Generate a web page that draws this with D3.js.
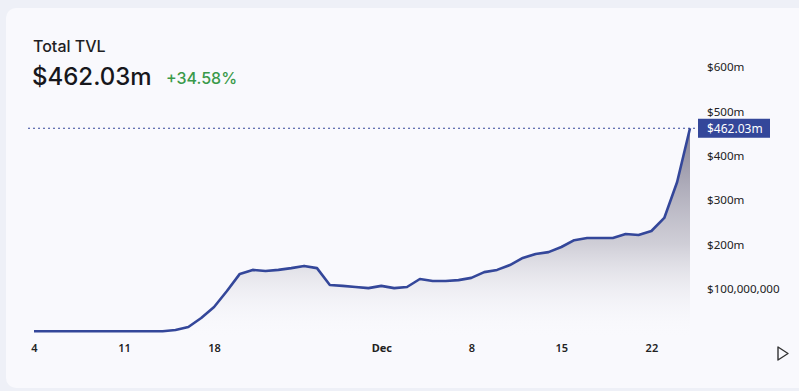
<!DOCTYPE html>
<html><head><meta charset="utf-8">
<script src="https://cdn.jsdelivr.net/npm/d3@7"></script>
<style>
html,body{margin:0;padding:0;background:#eef0f7;}
svg{display:block;}
</style></head>
<body>
<svg id="c" width="799" height="391"></svg>
<script>
// ---- data ----
const startDay = new Date(2024, 10, 4);
const endDay = new Date(2024, 11, 25);
const tvlMillions = [
  5, 5, 5, 5, 5, 5, 5, 5, 5, 5, 5,
  7.7, 14.4, 34.7, 59.5, 95.5, 134, 143, 140.5, 143, 147, 152, 147,
  109, 107, 104.5, 102, 107, 102, 104.5, 122.5, 118, 118, 120, 125,
  138, 143, 154, 170, 179, 183, 194.6, 210, 215, 215, 215, 224, 221.6,
  230.6, 260, 341, 462.03
];
const yTicks = [100e6, 200e6, 300e6, 400e6, 500e6, 600e6];
const xTickDates = [new Date(2024,10,4), new Date(2024,10,11), new Date(2024,10,18),
  new Date(2024,11,1), new Date(2024,11,8), new Date(2024,11,15), new Date(2024,11,22)];
const xTickLabels = ["4", "11", "18", "Dec", "8", "15", "22"];
const titleText = "Total TVL";
const valueText = "$462.03m";
const changeText = "+34.58%";

const days = d3.timeDay.range(startDay, d3.timeDay.offset(endDay, 1));
const data = days.map((d, i) => ({date: d, value: tvlMillions[i] * 1e6}));

const svg = d3.select("#c");
const defs = svg.append("defs");

// card
svg.append("rect").attr("x", 6).attr("y", 8).attr("width", 820).attr("height", 380)
  .attr("rx", 10).attr("fill", "#f9f9fd");

const x = d3.scaleTime().domain([startDay, endDay]).range([34, 690]);
const y = d3.scaleLinear().domain([0, 600e6]).range([333.4, 67]);

const grad = defs.append("linearGradient").attr("id", "g").attr("gradientUnits", "userSpaceOnUse")
  .attr("x1", 0).attr("x2", 0).attr("y1", y(462.03e6)).attr("y2", 338);
grad.append("stop").attr("offset", 0).attr("stop-color", "#77748a").attr("stop-opacity", 0.9);
grad.append("stop").attr("offset", 0.55).attr("stop-color", "#b3b1bd").attr("stop-opacity", 0.6);
grad.append("stop").attr("offset", 1).attr("stop-color", "#f9f9fd").attr("stop-opacity", 0);

const area = d3.area().x(d => x(d.date)).y0(y(0) + 2).y1(d => y(d.value));
svg.append("path").datum(data).attr("d", area).attr("fill", "url(#g)");

const line = d3.line().x(d => x(d.date)).y(d => y(d.value));
svg.append("path").datum(data).attr("d", line).attr("fill", "none")
  .attr("stroke", "#34479a").attr("stroke-width", 2.6).attr("stroke-linejoin", "round");

// last value dotted line
const last = data[data.length - 1];
svg.append("line").attr("x1", 28).attr("x2", 697).attr("y1", y(last.value)).attr("y2", y(last.value))
  .attr("stroke", "#34479a").attr("stroke-width", 1.2).attr("stroke-dasharray", "2,3");

// right axis
const yAxis = d3.axisRight(y).tickValues(yTicks).tickSize(0).tickPadding(0)
  .tickFormat(v => v === 100e6 ? d3.format("$,")(v) : "$" + (v / 1e6) + "m");
const ya = svg.append("g").attr("transform", "translate(707,0)").call(yAxis);
ya.select(".domain").remove();
ya.selectAll("text").attr("font-family", "Noto Sans, Open Sans, sans-serif").attr("font-size", 11.6)
  .attr("fill", "#222");

// last value label
const ly = y(last.value);
svg.append("rect").attr("x", 698).attr("y", ly - 9.5).attr("width", 72).attr("height", 19)
  .attr("fill", "#34479a");
svg.append("text").attr("x", 707).attr("y", ly + 4.5).text(valueText)
  .attr("font-family", "Noto Sans, Open Sans, sans-serif").attr("font-size", 12).attr("fill", "#fff");

// bottom axis
const xAxis = d3.axisBottom(x).tickValues(xTickDates).tickSize(0).tickPadding(0)
  .tickFormat((d, i) => xTickLabels[i]);
const xa = svg.append("g").attr("transform", "translate(0,344)").call(xAxis);
xa.select(".domain").remove();
xa.selectAll("text").attr("font-family", "Noto Sans, Open Sans, sans-serif").attr("font-size", 11)
  .attr("fill", "#222").attr("font-weight", (d, i) => xTickLabels[i] === "Dec" ? "bold" : "600");

// play icon
svg.append("path").attr("d", "M778,347 L788,353.5 L778,360 Z").attr("fill", "none")
  .attr("stroke", "#333").attr("stroke-width", 1.4).attr("stroke-linejoin", "round");

// titles
svg.append("text").attr("x", 33).attr("y", 52).text(titleText)
  .attr("font-family", "Inter, Roboto, sans-serif").attr("font-size", 16).attr("font-weight", 500).attr("fill", "#1f1f24");
svg.append("text").attr("x", 32).attr("y", 85).text(valueText)
  .attr("font-family", "Inter, Roboto, sans-serif").attr("font-size", 24).attr("font-weight", 500).attr("fill", "#17171c");
svg.append("text").attr("x", 166).attr("y", 84).text(changeText)
  .attr("font-family", "Inter, Roboto, sans-serif").attr("font-size", 16).attr("font-weight", 500).attr("fill", "#3a9a4a");
</script>
</body></html>
